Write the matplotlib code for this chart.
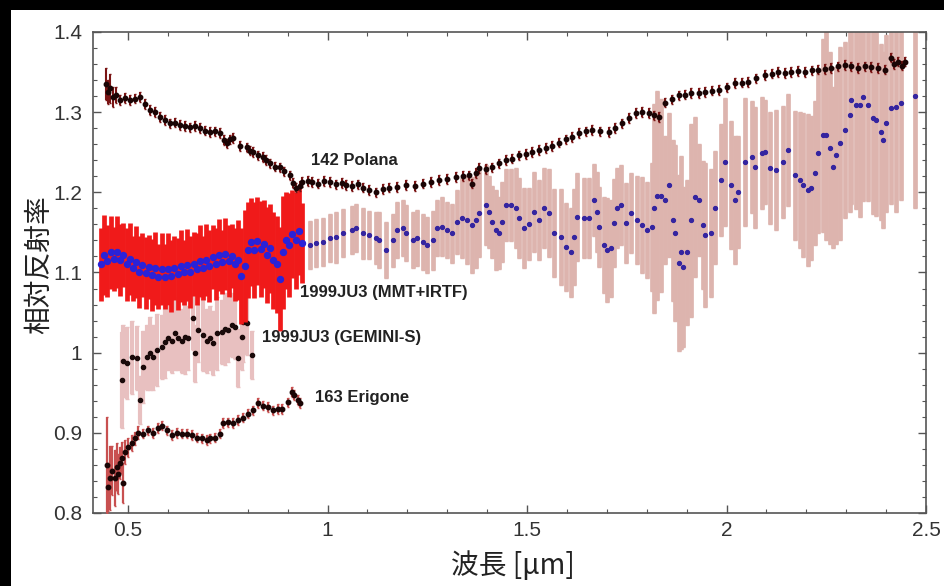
import numpy as np
import matplotlib
matplotlib.use("Agg")
import matplotlib.pyplot as plt
from matplotlib.patches import Rectangle
from matplotlib.ticker import MultipleLocator, FormatStrFormatter

# 142 Polana
pol_x = [0.445, 0.450, 0.455, 0.462, 0.470, 0.480, 0.492, 0.505, 0.517, 0.530, 0.542, 0.555, 0.567, 0.580,
         0.592, 0.605, 0.617, 0.630, 0.642, 0.655, 0.667, 0.680, 0.692, 0.705, 0.717, 0.730, 0.740, 0.747,
         0.755, 0.762, 0.780, 0.797, 0.805, 0.812, 0.825, 0.837, 0.846, 0.855, 0.867, 0.880, 0.892, 0.905,
         0.914, 0.922, 0.930, 0.937, 0.950, 0.962, 0.975, 0.990, 1.005, 1.020, 1.035, 1.047, 1.062, 1.075,
         1.088, 1.105, 1.122, 1.138, 1.155, 1.175, 1.197, 1.218, 1.238, 1.258, 1.280, 1.300, 1.322, 1.340,
         1.355, 1.363, 1.372, 1.380, 1.397, 1.413, 1.430, 1.447, 1.463, 1.480, 1.497, 1.513, 1.530, 1.547,
         1.563, 1.580, 1.597, 1.613, 1.630, 1.647, 1.662, 1.683, 1.705, 1.720, 1.737, 1.755, 1.772, 1.788,
         1.805, 1.818, 1.830, 1.847, 1.863, 1.880, 1.897, 1.912, 1.930, 1.947, 1.963, 1.980, 2.000, 2.022,
         2.040, 2.055, 2.075, 2.097, 2.113, 2.130, 2.147, 2.162, 2.180, 2.197, 2.213, 2.230, 2.247, 2.262,
         2.280, 2.297, 2.313, 2.330, 2.347, 2.362, 2.380, 2.397, 2.412, 2.420, 2.430, 2.440, 2.447]
pol_y = [1.335, 1.325, 1.330, 1.319, 1.322, 1.315, 1.318, 1.315, 1.317, 1.319, 1.310, 1.303, 1.300, 1.294,
         1.290, 1.286, 1.287, 1.284, 1.283, 1.281, 1.283, 1.280, 1.277, 1.275, 1.276, 1.274, 1.265, 1.261,
         1.266, 1.268, 1.258, 1.256, 1.252, 1.250, 1.246, 1.244, 1.240, 1.236, 1.232, 1.231, 1.226, 1.221,
         1.212, 1.206, 1.208, 1.213, 1.214, 1.213, 1.211, 1.214, 1.213, 1.210, 1.212, 1.209, 1.208, 1.210,
         1.206, 1.203, 1.200, 1.204, 1.206, 1.207, 1.209, 1.208, 1.211, 1.213, 1.215, 1.217, 1.219, 1.220,
         1.221, 1.211, 1.224, 1.230, 1.229, 1.231, 1.236, 1.240, 1.242, 1.246, 1.248, 1.250, 1.253, 1.255,
         1.258, 1.262, 1.266, 1.269, 1.274, 1.276, 1.278, 1.276, 1.275, 1.280, 1.286, 1.293, 1.299, 1.300,
         1.299, 1.296, 1.294, 1.312, 1.316, 1.321, 1.322, 1.324, 1.324, 1.325, 1.327, 1.328, 1.331, 1.336,
         1.337, 1.338, 1.342, 1.346, 1.348, 1.350, 1.349, 1.350, 1.351, 1.350, 1.352, 1.353, 1.354, 1.355,
         1.357, 1.359, 1.357, 1.355, 1.357, 1.356, 1.355, 1.353, 1.368, 1.360, 1.363, 1.358, 1.363]
pol_err = [0.020, 0.015, 0.018, 0.012, 0.010] + [0.006] * (len(pol_x) - 5)

# 1999JU3 (MMT+IRTF), visible part
vis_x = [0.432, 0.440, 0.448, 0.456, 0.464, 0.472, 0.480, 0.488, 0.496, 0.504, 0.512, 0.520, 0.528, 0.536,
         0.544, 0.552, 0.560, 0.568, 0.576, 0.584, 0.592, 0.600, 0.608, 0.616, 0.624, 0.632, 0.640, 0.648,
         0.656, 0.664, 0.672, 0.680, 0.688, 0.696, 0.704, 0.712, 0.720, 0.728, 0.736, 0.744, 0.752, 0.760,
         0.768, 0.776, 0.784, 0.792, 0.800, 0.808, 0.816, 0.824, 0.832, 0.840, 0.848, 0.856, 0.864, 0.872,
         0.880, 0.888, 0.896, 0.904, 0.912, 0.920, 0.928, 0.935]
vis_y = [1.110, 1.122, 1.114, 1.125, 1.117, 1.126, 1.116, 1.122, 1.110, 1.117, 1.105, 1.113, 1.101, 1.109,
         1.099, 1.107, 1.097, 1.105, 1.095, 1.104, 1.095, 1.104, 1.096, 1.106, 1.098, 1.108, 1.100, 1.109,
         1.101, 1.111, 1.104, 1.114, 1.106, 1.116, 1.108, 1.119, 1.111, 1.122, 1.113, 1.123, 1.114, 1.121,
         1.110, 1.116, 1.096, 1.108, 1.128, 1.138, 1.128, 1.139, 1.129, 1.136, 1.122, 1.130, 1.115, 1.110,
         1.092, 1.125, 1.140, 1.134, 1.148, 1.140, 1.152, 1.137]
vis_err = [0.045, 0.050, 0.045, 0.045, 0.040, 0.045, 0.045, 0.040, 0.045, 0.045, 0.040, 0.045, 0.045, 0.040,
           0.045, 0.040, 0.045, 0.045, 0.040, 0.045, 0.040, 0.045, 0.045, 0.040, 0.045, 0.045, 0.040, 0.045,
           0.045, 0.040, 0.045, 0.045, 0.040, 0.045, 0.045, 0.040, 0.045, 0.045, 0.040, 0.045, 0.045, 0.040,
           0.045, 0.050, 0.060, 0.070, 0.060, 0.055, 0.060, 0.055, 0.060, 0.055, 0.060, 0.055, 0.060, 0.060,
           0.065, 0.070, 0.060, 0.065, 0.055, 0.060, 0.055, 0.050]

# 1999JU3 (MMT+IRTF), near-infrared part
nir_x = [0.955, 0.972, 0.988, 1.005, 1.022, 1.038, 1.060, 1.072, 1.088, 1.105, 1.122, 1.130, 1.147, 1.163,
         1.175, 1.188, 1.197, 1.213, 1.225, 1.238, 1.250, 1.263, 1.275, 1.288, 1.300, 1.313, 1.325, 1.338,
         1.350, 1.363, 1.372, 1.380, 1.397, 1.405, 1.413, 1.422, 1.430, 1.438, 1.447, 1.460, 1.472, 1.480,
         1.493, 1.505, 1.517, 1.530, 1.542, 1.555, 1.567, 1.585, 1.597, 1.610, 1.617, 1.625, 1.642, 1.655,
         1.667, 1.675, 1.680, 1.692, 1.700, 1.710, 1.717, 1.725, 1.735, 1.747, 1.760, 1.775, 1.787, 1.800,
         1.812, 1.817, 1.825, 1.837, 1.847, 1.855, 1.867, 1.872, 1.880, 1.887, 1.892, 1.900, 1.912, 1.922,
         1.930, 1.942, 1.947, 1.960, 1.972, 1.985, 1.995, 2.010, 2.020, 2.030, 2.047, 2.063, 2.072, 2.088,
         2.097, 2.110, 2.125, 2.142, 2.155, 2.172, 2.185, 2.192, 2.205, 2.212, 2.222, 2.230, 2.242, 2.250,
         2.260, 2.267, 2.275, 2.285, 2.297, 2.310, 2.312, 2.325, 2.335, 2.342, 2.355, 2.367, 2.375, 2.387,
         2.392, 2.400, 2.412, 2.425, 2.437, 2.472]
nir_y = [1.134, 1.137, 1.138, 1.143, 1.144, 1.149, 1.153, 1.155, 1.149, 1.147, 1.143, 1.140, 1.128, 1.140,
         1.153, 1.155, 1.149, 1.140, 1.143, 1.138, 1.134, 1.140, 1.155, 1.157, 1.153, 1.149, 1.163, 1.168,
         1.165, 1.159, 1.165, 1.174, 1.184, 1.175, 1.163, 1.153, 1.149, 1.163, 1.184, 1.184, 1.180, 1.168,
         1.155, 1.161, 1.175, 1.165, 1.180, 1.174, 1.149, 1.144, 1.132, 1.125, 1.144, 1.169, 1.168, 1.168,
         1.190, 1.175, 1.157, 1.134, 1.128, 1.130, 1.162, 1.180, 1.184, 1.162, 1.174, 1.165, 1.159, 1.153,
         1.157, 1.180, 1.196, 1.196, 1.190, 1.209, 1.165, 1.149, 1.112, 1.125, 1.107, 1.125, 1.165, 1.194,
         1.190, 1.159, 1.147, 1.149, 1.181, 1.215, 1.238, 1.209, 1.190, 1.200, 1.238, 1.244, 1.231, 1.249,
         1.250, 1.230, 1.228, 1.238, 1.253, 1.221, 1.215, 1.209, 1.203, 1.205, 1.224, 1.249, 1.271, 1.271,
         1.255, 1.231, 1.246, 1.261, 1.278, 1.296, 1.315, 1.309, 1.309, 1.319, 1.309, 1.293, 1.290, 1.275,
         1.265, 1.286, 1.305, 1.306, 1.311, 1.320]
nir_err = [0.030, 0.030, 0.030, 0.030, 0.032, 0.030, 0.030, 0.030, 0.032, 0.030, 0.032, 0.035, 0.035, 0.033,
           0.035, 0.035, 0.035, 0.035, 0.035, 0.035, 0.035, 0.037, 0.035, 0.037, 0.035, 0.037, 0.040, 0.050,
           0.055, 0.060, 0.060, 0.055, 0.050, 0.045, 0.045, 0.050, 0.045, 0.050, 0.045, 0.045, 0.050, 0.050,
           0.050, 0.045, 0.050, 0.050, 0.050, 0.055, 0.055, 0.060, 0.055, 0.055, 0.060, 0.055, 0.050, 0.050,
           0.045, 0.050, 0.050, 0.060, 0.065, 0.060, 0.055, 0.050, 0.050, 0.050, 0.050, 0.055, 0.060, 0.060,
           0.080, 0.130, 0.130, 0.120, 0.080, 0.090, 0.100, 0.110, 0.110, 0.120, 0.100, 0.090, 0.120, 0.100,
           0.070, 0.080, 0.090, 0.080, 0.070, 0.070, 0.080, 0.080, 0.080, 0.070, 0.080, 0.070, 0.075, 0.070,
           0.065, 0.070, 0.075, 0.070, 0.070, 0.080, 0.085, 0.090, 0.095, 0.090, 0.090, 0.100, 0.120, 0.130,
           0.120, 0.100, 0.110, 0.120, 0.110, 0.120, 0.130, 0.130, 0.140, 0.130, 0.120, 0.120, 0.120, 0.110,
           0.110, 0.110, 0.120, 0.130, 0.120, 0.140]

# 1999JU3 (GEMINI-S)
gem_x = [0.485, 0.488, 0.497, 0.510, 0.522, 0.530, 0.537, 0.547, 0.555, 0.562, 0.572, 0.585, 0.592, 0.600,
         0.610, 0.617, 0.625, 0.635, 0.642, 0.650, 0.662, 0.667, 0.675, 0.687, 0.697, 0.705, 0.712, 0.722,
         0.735, 0.742, 0.750, 0.760, 0.767, 0.775, 0.785, 0.787, 0.797, 0.810]
gem_y = [0.966, 0.990, 0.987, 0.994, 0.993, 0.941, 0.982, 0.994, 0.999, 0.994, 1.003, 1.007, 1.013, 1.018,
         1.015, 1.024, 1.018, 1.015, 1.019, 1.018, 1.043, 0.999, 1.028, 1.022, 1.015, 1.018, 1.012, 1.024,
         1.026, 1.030, 1.028, 1.034, 1.032, 0.993, 1.019, 1.038, 1.037, 0.997]
gem_err = [0.060, 0.045, 0.045, 0.045, 0.040, 0.030, 0.045, 0.040, 0.045, 0.040, 0.045, 0.040, 0.045, 0.040,
           0.040, 0.045, 0.040, 0.040, 0.045, 0.040, 0.040, 0.035, 0.040, 0.045, 0.040, 0.040, 0.040, 0.045,
           0.040, 0.045, 0.040, 0.040, 0.040, 0.036, 0.040, 0.050, 0.040, 0.030]

# 163 Erigone
eri_x = [0.447, 0.450, 0.455, 0.460, 0.467, 0.472, 0.475, 0.480, 0.485, 0.488, 0.492, 0.500, 0.510, 0.517,
         0.525, 0.537, 0.550, 0.562, 0.575, 0.585, 0.597, 0.610, 0.622, 0.635, 0.647, 0.660, 0.672, 0.685,
         0.697, 0.705, 0.717, 0.730, 0.737, 0.750, 0.762, 0.775, 0.787, 0.800, 0.812, 0.825, 0.837, 0.850,
         0.862, 0.875, 0.887, 0.900, 0.910, 0.917, 0.925, 0.930]
eri_y = [0.860, 0.832, 0.844, 0.853, 0.844, 0.857, 0.849, 0.862, 0.869, 0.837, 0.876, 0.882, 0.887, 0.893,
         0.900, 0.899, 0.903, 0.900, 0.906, 0.909, 0.903, 0.897, 0.900, 0.899, 0.899, 0.897, 0.894, 0.893,
         0.891, 0.893, 0.894, 0.899, 0.912, 0.913, 0.912, 0.916, 0.919, 0.924, 0.928, 0.937, 0.934, 0.932,
         0.928, 0.930, 0.930, 0.938, 0.951, 0.947, 0.941, 0.937]
eri_err = [0.060, 0.030, 0.040, 0.030, 0.035, 0.030, 0.025, 0.020, 0.020, 0.025, 0.015, 0.012, 0.010, 0.008,
           0.008] + [0.006] * 35

labels = ["142 Polana", "1999JU3 (MMT+IRTF)", "1999JU3 (GEMINI-S)", "163 Erigone"]
label_pos = [(0.958, 1.240), (0.930, 1.075), (0.835, 1.019), (0.968, 0.944)]

fig = plt.figure(figsize=(9.44, 5.86), dpi=100, facecolor="black")
# white card behind everything, black border left and top
fig.patches.append(Rectangle((11 / 944, 0), 1, 576 / 586, transform=fig.transFigure,
                             facecolor="white", edgecolor="none", zorder=-10))
ax = fig.add_axes([93 / 944, 1 - 513 / 586, (926 - 93) / 944, (513 - 32) / 586])
ax.set_zorder(5)

ax.errorbar(gem_x, gem_y, yerr=gem_err, fmt="o", ms=3, color="#1a0a0a", ecolor="#e8c0c0",
            elinewidth=3, capsize=1.5, zorder=2)
ax.errorbar(nir_x, nir_y, yerr=nir_err, fmt="o", ms=2.8, color="#3424a0", ecolor="#ddb4ae",
            elinewidth=3.4, capsize=1.5, zorder=2)
ax.errorbar(vis_x, vis_y, yerr=vis_err, fmt="o", ms=4.3, color="#2a22d8", ecolor="#f01a1a",
            elinewidth=3.4, capsize=0, zorder=3)
ax.errorbar(pol_x, pol_y, yerr=pol_err, fmt="o", ms=3.2, color="#1a0505", ecolor="#7a1414",
            elinewidth=1.5, capsize=1, zorder=4)
ax.errorbar(eri_x, eri_y, yerr=eri_err, fmt="o", ms=3.2, color="#1a0505", ecolor="#c85050",
            elinewidth=1.6, capsize=1, zorder=4)

for txt, (lx, ly) in zip(labels, label_pos):
    ax.text(lx, ly, txt, fontsize=12, fontweight="bold", family="Liberation Sans",
            color="#222222", va="center", ha="left", zorder=6)

ax.set_xlim(0.412, 2.5)
ax.set_ylim(0.8, 1.4)
ax.xaxis.set_major_locator(MultipleLocator(0.5))
ax.xaxis.set_minor_locator(MultipleLocator(0.1))
ax.yaxis.set_major_locator(MultipleLocator(0.1))
ax.yaxis.set_minor_locator(MultipleLocator(0.02))
ax.xaxis.set_major_formatter(FormatStrFormatter("%g"))
ax.yaxis.set_major_formatter(FormatStrFormatter("%g"))
ax.tick_params(which="both", direction="in", top=True, right=True, colors="#555555",
               labelcolor="#333333", labelsize=15)
ax.tick_params(which="major", length=6, width=1)
ax.tick_params(which="minor", length=3, width=0.8)
ax.tick_params(axis="y", which="major", pad=8)
ax.tick_params(axis="x", which="major", pad=6)
for lab in ax.get_xticklabels() + ax.get_yticklabels():
    lab.set_family("Liberation Sans")
for sp in ax.spines.values():
    sp.set_color("#555555")
    sp.set_linewidth(1.2)

cjk = ["Noto Sans CJK JP", "DejaVu Sans"]
ax.set_ylabel("相対反射率", fontsize=20, family=cjk, color="#222222")
ax.set_xlabel("波長 [μm]", fontsize=20, family=cjk, color="#222222")
ax.yaxis.set_label_coords(-0.047, 0.516)
ax.xaxis.set_label_coords(0.504, -0.078)

fig.savefig("out.png", dpi=100, facecolor="black")
